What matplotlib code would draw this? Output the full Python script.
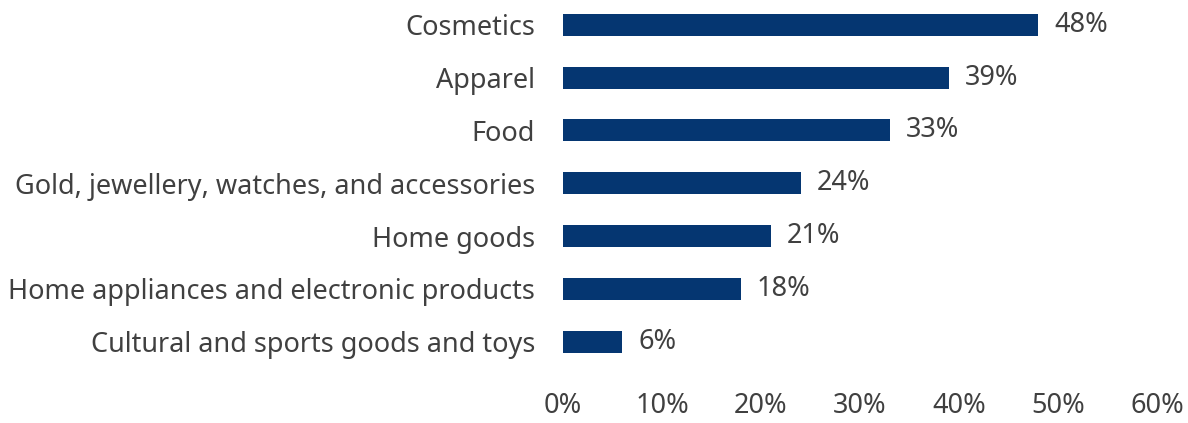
import matplotlib
matplotlib.use("Agg")
import matplotlib.pyplot as plt
from matplotlib.ticker import FuncFormatter

plt.rcParams['font.family'] = ['Noto Sans', 'DejaVu Sans']

categories = [
    "Cosmetics",
    "Apparel",
    "Food",
    "Gold, jewellery, watches, and accessories",
    "Home goods",
    "Home appliances and electronic products",
    "Cultural and sports goods and toys",
]
shares = [48, 39, 33, 24, 21, 18, 6]
xticks = [0, 10, 20, 30, 40, 50, 60]

bar_color = '#053671'
text_color = '#404040'
fs = 19.5

fig = plt.figure(figsize=(11.88, 4.23), dpi=100)
ax = fig.add_axes([563 / 1188, 55 / 423, 594 / 1188, 368 / 423])

ypos = list(range(len(categories)))
ax.barh(ypos, shares, height=0.42, color=bar_color)
ax.set_ylim(len(categories) - 0.5, -0.47)
ax.set_xlim(0, 60)

for y, v in zip(ypos, shares):
    ax.text(v + 1.6, y, f"{v}%", va='center', ha='left', fontsize=fs, color=text_color)

ax.set_yticks(ypos)
ax.set_yticklabels(categories, fontsize=fs, color=text_color)
ax.set_xticks(xticks)
ax.xaxis.set_major_formatter(FuncFormatter(lambda v, p: f"{v:.0f}%"))
ax.tick_params(axis='x', labelsize=fs, labelcolor=text_color, length=0, pad=17)
ax.tick_params(axis='y', length=0, pad=20)

for s in ax.spines.values():
    s.set_visible(False)

fig.savefig("out.png", dpi=100)
